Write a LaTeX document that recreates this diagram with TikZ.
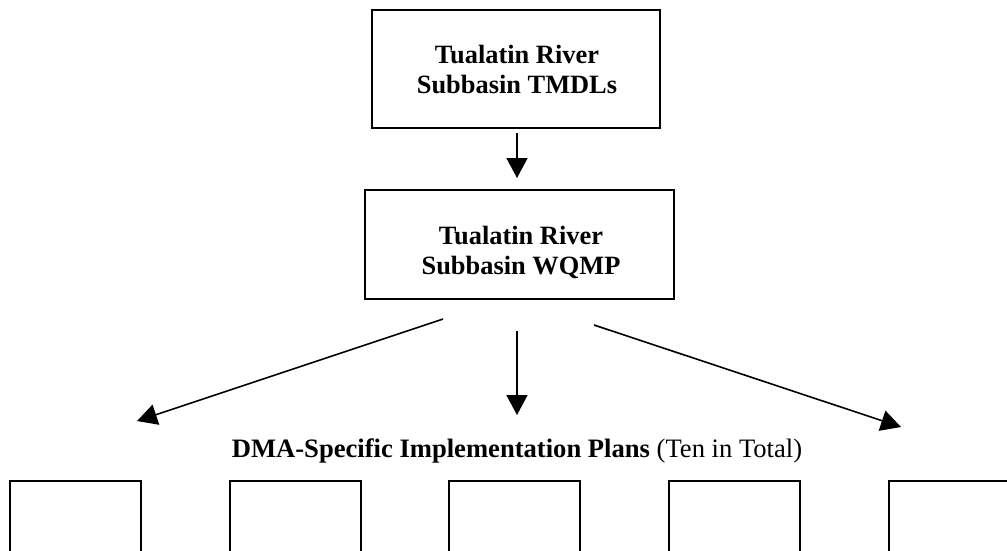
\documentclass[tikz,border=0pt]{standalone}
\usepackage{fontspec}
\setmainfont{Liberation Serif}
\usetikzlibrary{arrows.meta}
\begin{document}
\begin{tikzpicture}[x=1pt,y=-1pt,
  box/.style={draw=black, line width=2pt, inner sep=0pt},
  lbl/.style={inner sep=0pt, align=center, font=\fontsize{26.4}{30}\selectfont\bfseries},
  leaf/.style={draw=black, line width=2pt, inner sep=0pt, minimum width=131pt, minimum height=72pt, anchor=north west},
  arr/.style={line width=1.6pt, -{Triangle[length=20pt,width=21pt]}}
]
\useasboundingbox[fill=white] (0,0) rectangle (1007,550);

\node[box, minimum width=288pt, minimum height=118pt] (tmdl) at (516,69) {};
\node[lbl] (tmdlt) at (517,69) {Tualatin River\\Subbasin TMDLs};
\node[box, minimum width=309pt, minimum height=109pt] (wqmp) at (519.5,244.5) {};
\node[lbl] (wqmpt) at (521,252) {Tualatin River\\Subbasin WQMP};

\coordinate (a0s) at (517,133);
\coordinate (a0e) at (517,178);
\draw[arr] (a0s) -- (a0e);

\coordinate (lS) at (443,319);
\coordinate (lE) at (137,421);
\coordinate (mS) at (517,331);
\coordinate (mE) at (517,415);
\coordinate (rS) at (594,325);
\coordinate (rE) at (901,427);
\draw[arr] (lS) -- (lE);
\draw[arr] (mS) -- (mE);
\draw[arr] (rS) -- (rE);

\node[anchor=base, font=\fontsize{26.6}{30}\selectfont] (dma) at (517,457)
  {\textbf{DMA-Specific Implementation Plans} (Ten in Total)};

\node[leaf] (p1) at (9,480) {};
\node[leaf] (p2) at (229,480) {};
\node[leaf] (p3) at (448,480) {};
\node[leaf] (p4) at (668,480) {};
\node[leaf] (p5) at (888,480) {};
\end{tikzpicture}
\end{document}
